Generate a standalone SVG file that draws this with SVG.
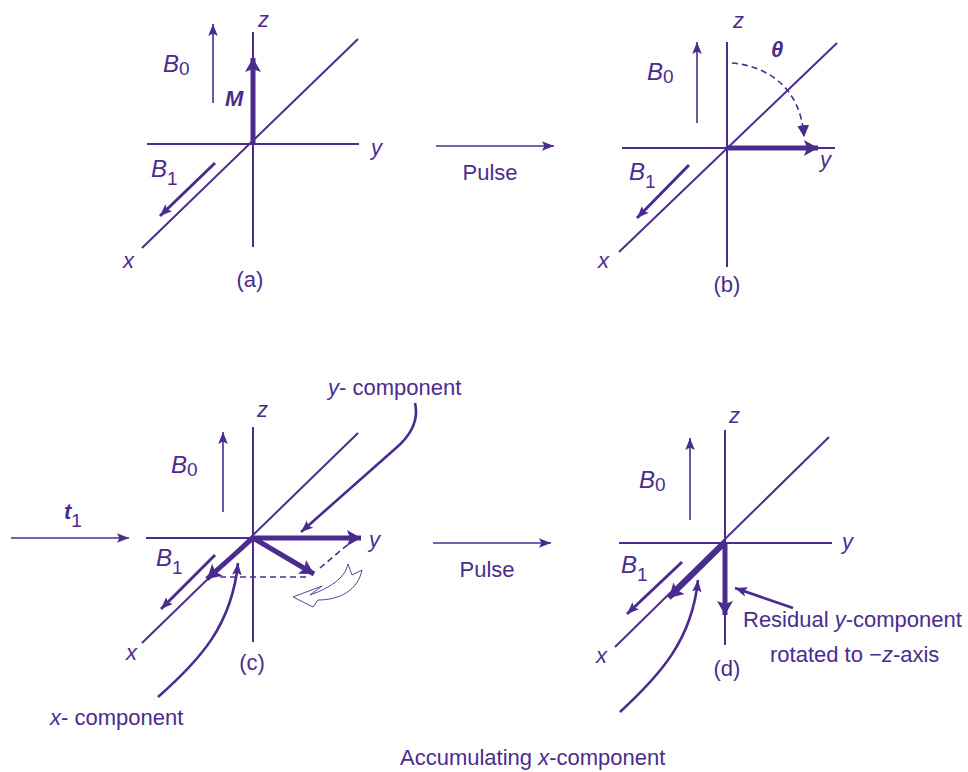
<svg xmlns="http://www.w3.org/2000/svg" width="968" height="772" viewBox="0 0 968 772">
<style>
.ax{stroke:#4b2c8e;stroke-width:2;fill:none}
.thin{stroke:#4b2c8e;stroke-width:1.6;fill:none}
.b1{stroke:#4b2c8e;stroke-width:3;fill:none}
.thick{stroke:#4b2c8e;stroke-width:5;fill:none}
.ptr{stroke:#4b2c8e;stroke-width:2.6;fill:none}
.dash{stroke:#4b2c8e;stroke-width:1.6;fill:none;stroke-dasharray:6 4}
text{font-family:"Liberation Sans",Arial,sans-serif;fill:#4b2c8e;font-size:22px}
.it{font-style:italic}
.bl{font-size:24px}
.sub{font-size:19px}
.mid{text-anchor:middle}
</style>
<defs>
<marker id="sm" markerUnits="userSpaceOnUse" markerWidth="12" markerHeight="12" viewBox="0 0 10 8" refX="10" refY="4" orient="auto"><path d="M0,0 L10,4 L0,8 L2,4 Z" fill="#4b2c8e"/></marker>
<marker id="big" markerUnits="userSpaceOnUse" markerWidth="16" markerHeight="16" viewBox="0 0 14 16" refX="14" refY="8" orient="auto"><path d="M0,0 L14,8 L0,16 L3,8 Z" fill="#4b2c8e"/></marker>
<marker id="tri" markerUnits="userSpaceOnUse" markerWidth="12" markerHeight="12" viewBox="0 0 10 10" refX="9" refY="5" orient="auto"><path d="M0,0 L10,5 L0,10 Z" fill="#4b2c8e"/></marker>
</defs>

<g id="panel-a">
<line class="ax" x1="253" y1="32" x2="253" y2="247"/>
<line class="ax" x1="147" y1="144" x2="359" y2="144"/>
<line class="ax" x1="142" y1="248" x2="358" y2="39"/>
<line class="thick" x1="253" y1="144" x2="253" y2="58" marker-end="url(#big)"/>
<line class="thin" x1="213" y1="103" x2="213" y2="24" marker-end="url(#sm)"/>
<line class="b1" x1="215" y1="163" x2="160" y2="216" marker-end="url(#sm)"/>
<text class="it" x="258" y="27">z</text>
<text class="it" x="371" y="155">y</text>
<text class="it" x="123" y="268">x</text>
<text x="163" y="72"><tspan class="it bl">B</tspan><tspan class="sub" dy="3">0</tspan></text>
<text class="it" x="225" y="106" font-weight="bold" font-size="20">M</text>
<text x="151" y="177"><tspan class="it bl">B</tspan><tspan class="sub" dy="8">1</tspan></text>
<text class="mid" x="250" y="287">(a)</text>
</g>

<g id="pulse-1">
<line class="thin" x1="436" y1="146" x2="554" y2="146" marker-end="url(#sm)"/>
<text class="mid" x="490" y="180">Pulse</text>
</g>

<g id="panel-b">
<line class="ax" x1="727" y1="42" x2="727" y2="267"/>
<line class="ax" x1="622" y1="148" x2="835" y2="148"/>
<line class="ax" x1="619" y1="252" x2="837" y2="43"/>
<line class="thick" x1="727" y1="148" x2="818" y2="148" marker-end="url(#big)"/>
<path class="dash" d="M732 63 C765 66 800 85 804 136" marker-end="url(#tri)"/>
<line class="thin" x1="697" y1="123" x2="697" y2="42" marker-end="url(#sm)"/>
<line class="b1" x1="689" y1="165" x2="637" y2="218" marker-end="url(#sm)"/>
<text class="it" x="733" y="28">z</text>
<text class="it" x="820" y="167">y</text>
<text class="it" x="598" y="268">x</text>
<text class="it" x="771" y="57" font-weight="bold">θ</text>
<text x="647" y="80"><tspan class="it bl">B</tspan><tspan class="sub" dy="3">0</tspan></text>
<text x="629" y="180"><tspan class="it bl">B</tspan><tspan class="sub" dy="8">1</tspan></text>
<text class="mid" x="727" y="292">(b)</text>
</g>

<g id="panel-c">
<line class="ax" x1="253" y1="427" x2="253" y2="642"/>
<line class="ax" x1="146" y1="538" x2="355" y2="538"/>
<line class="ax" x1="142" y1="643" x2="358" y2="433"/>
<line class="thick" x1="253" y1="538" x2="361" y2="538" marker-end="url(#big)"/>
<line class="thick" x1="253" y1="538" x2="207" y2="579" marker-end="url(#big)"/>
<line class="thick" x1="253" y1="538" x2="314" y2="574" marker-end="url(#big)"/>
<line class="dash" x1="220" y1="577" x2="310" y2="577"/>
<line class="dash" x1="320" y1="568" x2="352" y2="541"/>
<line class="thin" x1="223" y1="512" x2="223" y2="432" marker-end="url(#sm)"/>
<line class="b1" x1="215" y1="555" x2="161" y2="609" marker-end="url(#sm)"/>
<path stroke="#4b2c8e" stroke-width="0.9" fill="none" d="M293 597 L322 586 L310 595 C330 588 345 578 348 564 L352 575 L362 570 C358 590 340 600 318 600 L313 607 Z"/>
<text class="it" x="257" y="417">z</text>
<text class="it" x="369" y="547">y</text>
<text class="it" x="126" y="660">x</text>
<text x="171" y="473"><tspan class="it bl">B</tspan><tspan class="sub" dy="3">0</tspan></text>
<text x="156" y="566"><tspan class="it bl">B</tspan><tspan class="sub" dy="8">1</tspan></text>
<text class="mid" x="252" y="670">(c)</text>
</g>

<g id="t1-arrow">
<line class="thin" x1="11" y1="538" x2="129" y2="538" marker-end="url(#sm)"/>
<text x="64" y="519" font-size="24" font-weight="bold"><tspan class="it">t</tspan><tspan class="sub" dy="8" font-weight="normal">1</tspan></text>
</g>

<g id="y-component-label">
<text x="328" y="395"><tspan class="it">y</tspan>- component</text>
</g>

<g id="x-component-label">
<text x="50" y="725"><tspan class="it">x</tspan>- component</text>
</g>

<g id="pulse-2">
<line class="thin" x1="433" y1="543" x2="551" y2="543" marker-end="url(#sm)"/>
<text class="mid" x="487" y="577">Pulse</text>
</g>

<g id="panel-d">
<line class="ax" x1="725" y1="430" x2="725" y2="645"/>
<line class="ax" x1="619" y1="543" x2="832" y2="543"/>
<line class="ax" x1="615" y1="647" x2="829" y2="437"/>
<line class="thick" x1="725" y1="543" x2="669" y2="598" marker-end="url(#big)"/>
<line class="thick" x1="725" y1="543" x2="725" y2="615" marker-end="url(#big)"/>
<line class="thin" x1="690" y1="520" x2="690" y2="438" marker-end="url(#sm)"/>
<line class="b1" x1="682" y1="562" x2="627" y2="614" marker-end="url(#sm)"/>
<text class="it" x="729" y="423">z</text>
<text class="it" x="842" y="549">y</text>
<text class="it" x="596" y="663">x</text>
<text x="639" y="488"><tspan class="it bl">B</tspan><tspan class="sub" dy="3">0</tspan></text>
<text x="621" y="573"><tspan class="it bl">B</tspan><tspan class="sub" dy="8">1</tspan></text>
<text class="mid" x="727" y="676">(d)</text>
</g>

<g id="residual-label">
<text x="743" y="627">Residual <tspan class="it">y</tspan>-component</text>
<text x="770" y="662">rotated to −<tspan class="it">z</tspan>-axis</text>
</g>

<g id="accumulating-label">
<text x="400" y="765">Accumulating <tspan class="it">x</tspan>-component</text>
</g>

<g id="connectors">
<path class="ptr" d="M415 403 C419 420 411 435 396 448 L301 532" marker-end="url(#sm)"/>
<path class="ptr" d="M158 697 C200 660 232 625 238 563" marker-end="url(#sm)"/>
<path class="ptr" d="M620 712 C660 675 692 640 698 580" marker-end="url(#sm)"/>
<line class="ptr" x1="793" y1="608" x2="735" y2="588" marker-end="url(#sm)"/>
</g>
</svg>
